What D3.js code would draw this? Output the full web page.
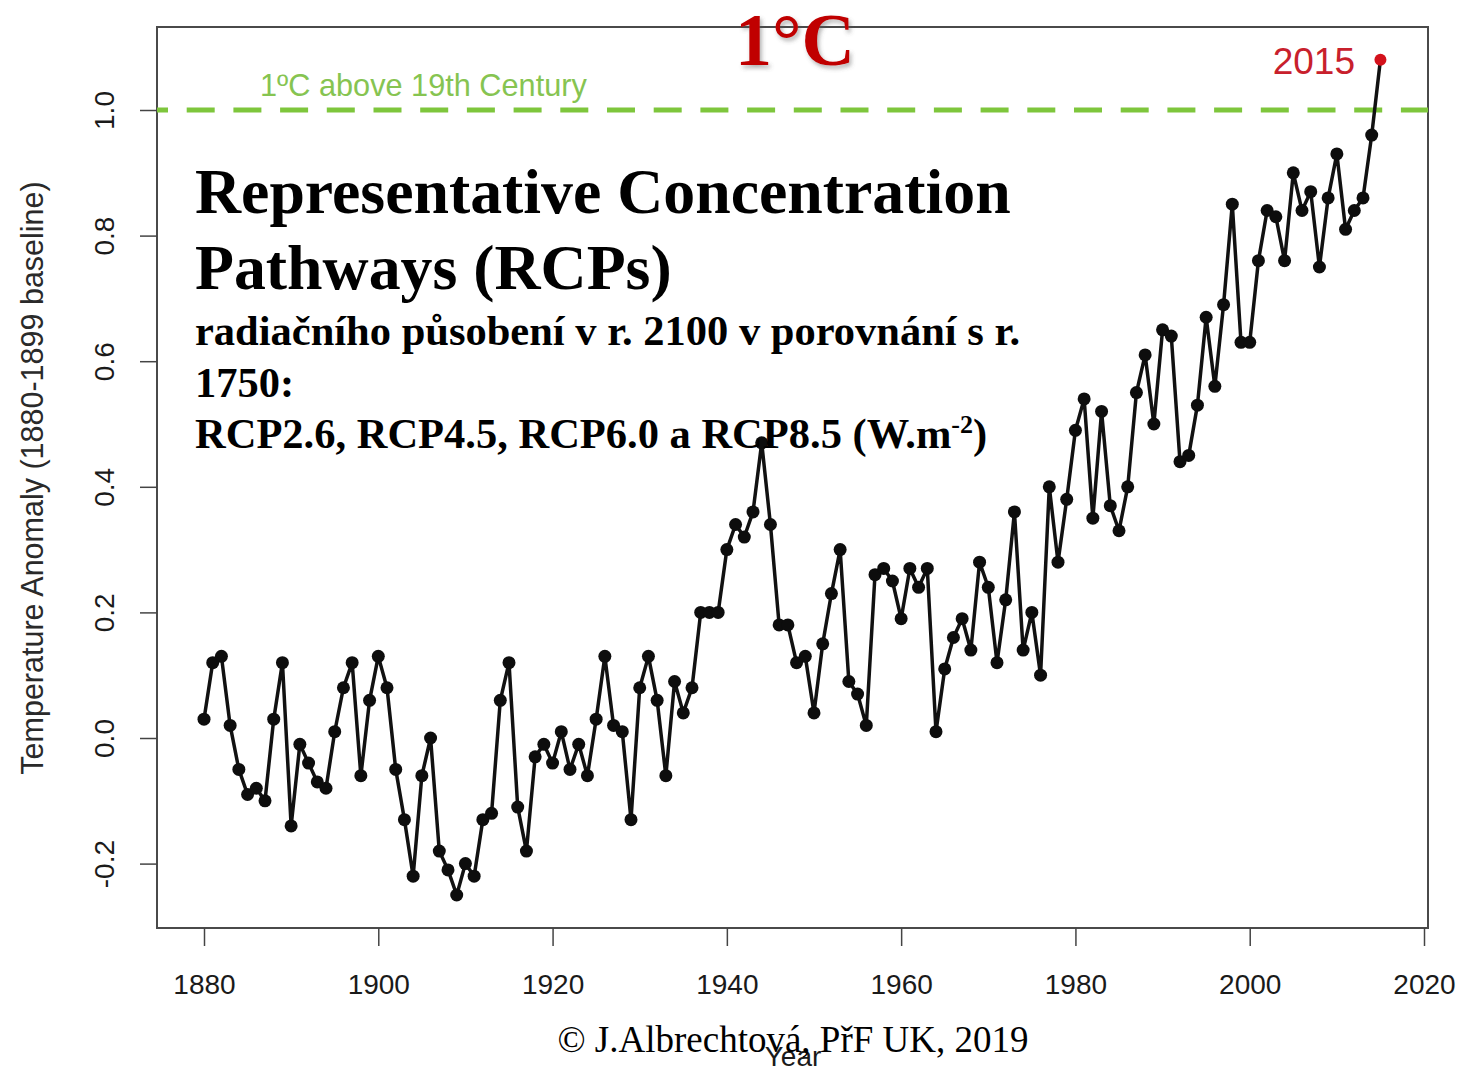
<!DOCTYPE html>
<html>
<head>
<meta charset="utf-8">
<script src="https://cdn.jsdelivr.net/npm/d3@7"></script>
<style>
  html, body { margin: 0; padding: 0; background: #fff; }
  svg { display: block; }
</style>
</head>
<body>
<svg id="chart" width="1460" height="1068"></svg>
<script>
// Global temperature anomaly, yearly values 1880–2015 (°C, 1880–1899 baseline)
const firstYear = 1880;
const anomalies = [
  0.03, 0.12, 0.13, 0.02, -0.05, -0.09, -0.08, -0.10, 0.03, 0.12,   // 1880s
  -0.14, -0.01, -0.04, -0.07, -0.08, 0.01, 0.08, 0.12, -0.06, 0.06,  // 1890s
  0.13, 0.08, -0.05, -0.13, -0.22, -0.06, 0.00, -0.18, -0.21, -0.25, // 1900s
  -0.20, -0.22, -0.13, -0.12, 0.06, 0.12, -0.11, -0.18, -0.03, -0.01,// 1910s
  -0.04, 0.01, -0.05, -0.01, -0.06, 0.03, 0.13, 0.02, 0.01, -0.13,   // 1920s
  0.08, 0.13, 0.06, -0.06, 0.09, 0.04, 0.08, 0.20, 0.20, 0.20,       // 1930s
  0.30, 0.34, 0.32, 0.36, 0.47, 0.34, 0.18, 0.18, 0.12, 0.13,        // 1940s
  0.04, 0.15, 0.23, 0.30, 0.09, 0.07, 0.02, 0.26, 0.27, 0.25,        // 1950s
  0.19, 0.27, 0.24, 0.27, 0.01, 0.11, 0.16, 0.19, 0.14, 0.28,        // 1960s
  0.24, 0.12, 0.22, 0.36, 0.14, 0.20, 0.10, 0.40, 0.28, 0.38,        // 1970s
  0.49, 0.54, 0.35, 0.52, 0.37, 0.33, 0.40, 0.55, 0.61, 0.50,        // 1980s
  0.65, 0.64, 0.44, 0.45, 0.53, 0.67, 0.56, 0.69, 0.85, 0.63,        // 1990s
  0.63, 0.76, 0.84, 0.83, 0.76, 0.90, 0.84, 0.87, 0.75, 0.86,        // 2000s
  0.93, 0.81, 0.84, 0.86, 0.96, 1.08                                 // 2010–2015
];
const years = anomalies.map((_, i) => firstYear + i);

const xTicks = [1880, 1900, 1920, 1940, 1960, 1980, 2000, 2020];
const yTicks = [-0.2, 0.0, 0.2, 0.4, 0.6, 0.8, 1.0];
const yTickLabels = ["-0.2", "0.0", "0.2", "0.4", "0.6", "0.8", "1.0"];
const thresholdValue = 1.0;
const thresholdLabel = "1ºC above 19th Century";
const highlightLabel = "2015";

const points = years.map((yr, i) => ({ year: yr, value: anomalies[i] }));

const SANS = "'Liberation Sans', Arial, Helvetica, sans-serif";
const SERIF = "'Liberation Serif', 'Times New Roman', serif";

const svg = d3.select("#chart");

// plotting region
const box = { left: 157, top: 27, right: 1428, bottom: 928 };
const x = d3.scaleLinear().domain([1880, 2020]).range([204, 1424]);
const y = d3.scaleLinear().domain([0, 1]).range([738, 110]);

const defs = svg.append("defs");
const shadow = defs.append("filter").attr("id", "softShadow")
  .attr("x", "-10%").attr("y", "-10%").attr("width", "130%").attr("height", "140%");
shadow.append("feDropShadow")
  .attr("dx", 2).attr("dy", 3).attr("stdDeviation", 2)
  .attr("flood-color", "#555").attr("flood-opacity", 0.45);

// frame
svg.append("rect")
  .attr("x", box.left).attr("y", box.top)
  .attr("width", box.right - box.left).attr("height", box.bottom - box.top)
  .attr("fill", "none").attr("stroke", "#4a4a4a").attr("stroke-width", 2);

// x axis
const xAxis = svg.append("g")
  .attr("transform", `translate(0,${box.bottom})`)
  .call(d3.axisBottom(x).tickValues(xTicks).tickFormat(d3.format("d")).tickSize(18).tickPadding(28))
  .attr("font-family", SANS).attr("font-size", 28);
xAxis.select(".domain").remove();
xAxis.selectAll(".tick line").attr("stroke", "#444").attr("stroke-width", 1.5);
xAxis.selectAll(".tick text").attr("fill", "#1a1a1a").attr("dy", "0.71em");

// y axis with rotated labels
const yAxis = svg.append("g")
  .attr("transform", `translate(${box.left},0)`)
  .call(d3.axisLeft(y).tickValues(yTicks)
    .tickFormat((d, i) => yTickLabels[i]).tickSize(17))
  .attr("font-family", SANS).attr("font-size", 28);
yAxis.select(".domain").remove();
yAxis.selectAll(".tick line").attr("stroke", "#444").attr("stroke-width", 1.5);
yAxis.selectAll(".tick text")
  .attr("transform", "rotate(-90)")
  .attr("x", 0).attr("y", -43).attr("dy", 0)
  .attr("text-anchor", "middle")
  .attr("fill", "#1a1a1a");

// axis titles
svg.append("text")
  .attr("transform", "translate(43,478) rotate(-90)")
  .attr("text-anchor", "middle")
  .attr("font-family", SANS).attr("font-size", 30.5)
  .attr("fill", "#2a2a2a")
  .text("Temperature Anomaly (1880-1899 baseline)");

svg.append("text")
  .attr("x", 793).attr("y", 1066)
  .attr("text-anchor", "middle")
  .attr("font-family", SANS).attr("font-size", 28)
  .attr("fill", "#1a1a1a")
  .text("Year");

// 1 °C threshold
svg.append("line")
  .attr("x1", box.left).attr("x2", box.right)
  .attr("y1", y(thresholdValue)).attr("y2", y(thresholdValue))
  .attr("stroke", "#7ec63c").attr("stroke-width", 5)
  .attr("stroke-dasharray", "28,18.7").attr("stroke-dashoffset", 17);

svg.append("text")
  .attr("x", 260).attr("y", 96)
  .attr("font-family", SANS).attr("font-size", 30.7)
  .attr("fill", "#86c451")
  .text(thresholdLabel);

// anomaly series
const line = d3.line().x(d => x(d.year)).y(d => y(d.value));
svg.append("path")
  .datum(points)
  .attr("d", line)
  .attr("fill", "none").attr("stroke", "#111")
  .attr("stroke-width", 3.5).attr("stroke-linejoin", "round");

const last = points[points.length - 1];
svg.append("g").selectAll("circle")
  .data(points.slice(0, -1))
  .join("circle")
  .attr("cx", d => x(d.year)).attr("cy", d => y(d.value))
  .attr("r", 6.5).attr("fill", "#0d0d0d");

svg.append("circle")
  .attr("cx", x(last.year)).attr("cy", y(last.value))
  .attr("r", 6).attr("fill", "#d3111b");

svg.append("text")
  .attr("x", 1355).attr("y", 74)
  .attr("text-anchor", "end")
  .attr("font-family", SANS).attr("font-size", 37)
  .attr("fill", "#c8202c")
  .text(highlightLabel);

// headline
svg.append("text")
  .attr("x", 795).attr("y", 65)
  .attr("text-anchor", "middle")
  .attr("font-family", SERIF).attr("font-weight", "bold").attr("font-size", 74)
  .attr("fill", "#c00000")
  .attr("filter", "url(#softShadow)")
  .text("1°C");

// text block
const title = svg.append("g").attr("font-family", SERIF).attr("font-weight", "bold").attr("fill", "#000");
title.append("text").attr("x", 195).attr("y", 213).attr("font-size", 63.8)
  .text("Representative Concentration");
title.append("text").attr("x", 195).attr("y", 289).attr("font-size", 63.8)
  .text("Pathways (RCPs)");
title.append("text").attr("x", 195).attr("y", 345).attr("font-size", 42.5)
  .text("radiačního působení v r. 2100 v porovnání s r.");
title.append("text").attr("x", 195).attr("y", 397).attr("font-size", 42.5)
  .text("1750:");
const rcp = title.append("text").attr("x", 195).attr("y", 448).attr("font-size", 42.5);
rcp.append("tspan").text("RCP2.6, RCP4.5, RCP6.0 a RCP8.5 (W.m");
rcp.append("tspan").attr("dy", -15).attr("font-size", 26).text("-2");
rcp.append("tspan").attr("dy", 15).text(")");

// credit line
svg.append("text")
  .attr("x", 793).attr("y", 1052)
  .attr("text-anchor", "middle")
  .attr("font-family", SERIF).attr("font-size", 37)
  .attr("fill", "#000")
  .text("© J.Albrechtová, PřF UK, 2019");
</script>
</body>
</html>
